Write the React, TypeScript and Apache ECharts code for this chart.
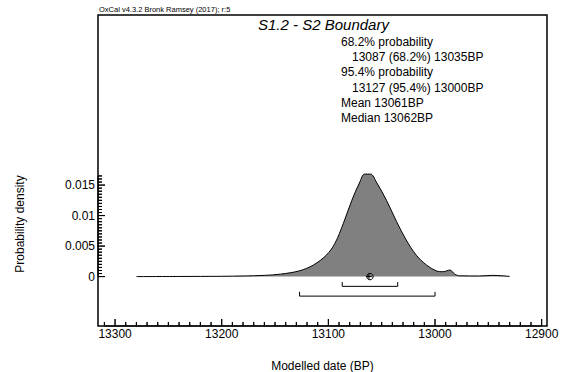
import React, { useEffect, useRef } from "react";
import * as echarts from "echarts";

// Posterior density (date BP, probability density)
const dates = [13280, 13240, 13200, 13180, 13160, 13145, 13127, 13114, 13102, 13094, 13086, 13078, 13070.5, 13066, 13060.5, 13055, 13045.5, 13036, 13027, 13017.5, 13008, 12999, 12992.5, 12986, 12981.5, 12977, 12958, 12946, 12930];
const density = [0, 0.00002, 0.00005, 0.0001, 0.0002, 0.0004, 0.00095, 0.0019, 0.0035, 0.0054, 0.0087, 0.0125, 0.0155, 0.0168, 0.0168, 0.0155, 0.0125, 0.009, 0.006, 0.0035, 0.0019, 0.00095, 0.0008, 0.00107, 0.0004, 0.00013, 0.0001, 0.0002, 0.00003];

const range68 = [13087, 13035];
const range95 = [13127, 13000];
const meanBP = 13061;
const medianBP = 13062;

const xMajorTicks = [13300, 13200, 13100, 13000, 12900];
const yMajorTicks = [0, 0.005, 0.01, 0.015];

const headerText = "OxCal v4.3.2 Bronk Ramsey (2017); r:5";
const titleText = "S1.2 - S2 Boundary";
const infoLines = [
  { text: "68.2% probability", indent: false },
  { text: "13087 (68.2%) 13035BP", indent: true },
  { text: "95.4% probability", indent: false },
  { text: "13127 (95.4%) 13000BP", indent: true },
  { text: "Mean 13061BP", indent: false },
  { text: "Median 13062BP", indent: false },
];

const FONT = "Arial, 'Liberation Sans', sans-serif";

export default function App() {
  const ref = useRef<HTMLDivElement>(null);
  useEffect(() => {
    if (!ref.current) return;
    const chart = echarts.init(ref.current, null, { renderer: "svg" });

    const X_MIN = 12895;
    const X_MAX = 13316;
    const lo = -0.0081;
    const hi = lo + 311 / 6100;

    // px -> data-unit conversions for tick lengths (grid 449 px wide, 311 px tall)
    const yPerPx = (hi - lo) / 311;
    const xPerPx = (X_MAX - X_MIN) / 449;

    // comb paths for the frame ticks (drawn as line series, through the axes' scales)
    const xComb: number[][] = [];
    for (let v = 13310; v >= 12900; v -= 10) {
      const len = (v % 100 === 0 ? 7 : 4) * yPerPx;
      xComb.push([v, lo], [v, lo + len], [v, lo]);
    }
    const yComb: number[][] = [];
    for (let i = 0; i <= 33; i++) {
      const v = Math.round(i * 5) / 10000;
      const len = (i % 10 === 0 ? 7 : 4) * xPerPx;
      yComb.push([X_MAX, v], [X_MAX - len, v], [X_MAX, v]);
    }

    const bracket = (r: number[], y: number) => [
      [r[0], y + 0.0007],
      [r[0], y],
      [r[1], y],
      [r[1], y + 0.0007],
    ];

    chart.setOption({
      animation: false,
      grid: {
        left: 98,
        right: 21,
        top: 15,
        bottom: 46,
        show: true,
        borderColor: "#000",
        borderWidth: 1.5,
        backgroundColor: "transparent",
        containLabel: false,
        outerBoundsMode: "none",
      },
      xAxis: {
        type: "value",
        min: X_MIN,
        max: X_MAX,
        inverse: true,
        position: "bottom",
        splitLine: { show: false },
        axisLine: { show: false, onZero: false },
        axisTick: { show: false },
        axisLabel: { show: true, customValues: xMajorTicks, formatter: (v: number) => String(v), color: "#000", fontSize: 12, fontFamily: FONT, margin: 2 },
        name: "Modelled date (BP)",
        nameLocation: "middle",
        nameGap: 34,
        nameTextStyle: { color: "#000", fontSize: 12, fontFamily: FONT },
      },
      yAxis: {
        type: "value",
        min: lo,
        max: hi,
        position: "left",
        splitLine: { show: false },
        axisLine: { show: false, onZero: false },
        axisTick: { show: false },
        axisLabel: { show: true, customValues: yMajorTicks, color: "#000", fontSize: 12, fontFamily: FONT, margin: 3 },
      },
      graphic: [
        {
          type: "text",
          left: 99,
          top: 5,
          style: { text: headerText, fill: "#000", fontSize: 7.5, fontFamily: FONT },
        },
        {
          type: "text",
          left: 258,
          top: 17,
          style: { text: titleText, fill: "#000", fontSize: 15, fontStyle: "italic", fontFamily: FONT },
        },
        ...infoLines.map((l, i) => ({
          type: "text",
          left: l.indent ? 352 : 341,
          top: 36 + i * 15.2,
          style: { text: l.text, fill: "#000", fontSize: 12, fontFamily: FONT },
        })),
        {
          type: "text",
          rotation: Math.PI / 2,
          x: 20,
          y: 224,
          style: { text: "Probability density", fill: "#000", fontSize: 12, fontFamily: FONT, align: "center", verticalAlign: "middle" },
        },
      ],
      series: [
        {
          type: "line",
          data: dates.map((d, i) => [d, density[i]]),
          smooth: 0.35,
          symbol: "none",
          lineStyle: { color: "#000", width: 1 },
          areaStyle: { color: "#808080", opacity: 1 },
          silent: true,
          z: 2,
        },
        {
          type: "line",
          data: bracket(range68, -0.0016),
          symbol: "none",
          lineStyle: { color: "#000", width: 1 },
          silent: true,
          z: 3,
        },
        {
          type: "line",
          data: bracket(range95, -0.0032),
          symbol: "none",
          lineStyle: { color: "#000", width: 1 },
          silent: true,
          z: 3,
        },
        {
          type: "line",
          data: xComb,
          symbol: "none",
          clip: false,
          lineStyle: { color: "#000", width: 1 },
          silent: true,
          z: 4,
        },
        {
          type: "line",
          data: yComb,
          symbol: "none",
          clip: false,
          lineStyle: { color: "#000", width: 1 },
          silent: true,
          z: 4,
        },
        {
          type: "custom",
          data: [[meanBP, 0]],
          clip: false,
          z: 10,
          renderItem: (params: any, api: any) => {
            const c = api.coord([api.value(0), api.value(1)]);
            return { type: "circle", shape: { cx: c[0], cy: c[1], r: 3.2 }, style: { fill: "none", stroke: "#000", lineWidth: 1 } };
          },
          silent: true,
        },
        {
          type: "custom",
          data: [[medianBP, 0]],
          clip: false,
          z: 10,
          renderItem: (params: any, api: any) => {
            const m = api.coord([api.value(0), api.value(1)]);
            return {
              type: "group",
              children: [
                { type: "rect", shape: { x: m[0] - 3, y: m[1] - 0.5, width: 6, height: 1 }, style: { fill: "#000" } },
                { type: "rect", shape: { x: m[0] - 0.5, y: m[1] - 3, width: 1, height: 6 }, style: { fill: "#000" } },
              ],
            };
          },
          silent: true,
        },
      ],
    });
    return () => chart.dispose();
  }, []);
  return <div ref={ref} style={{ width: 568, height: 372, position: "absolute", left: 0, top: 0 }} />;
}
